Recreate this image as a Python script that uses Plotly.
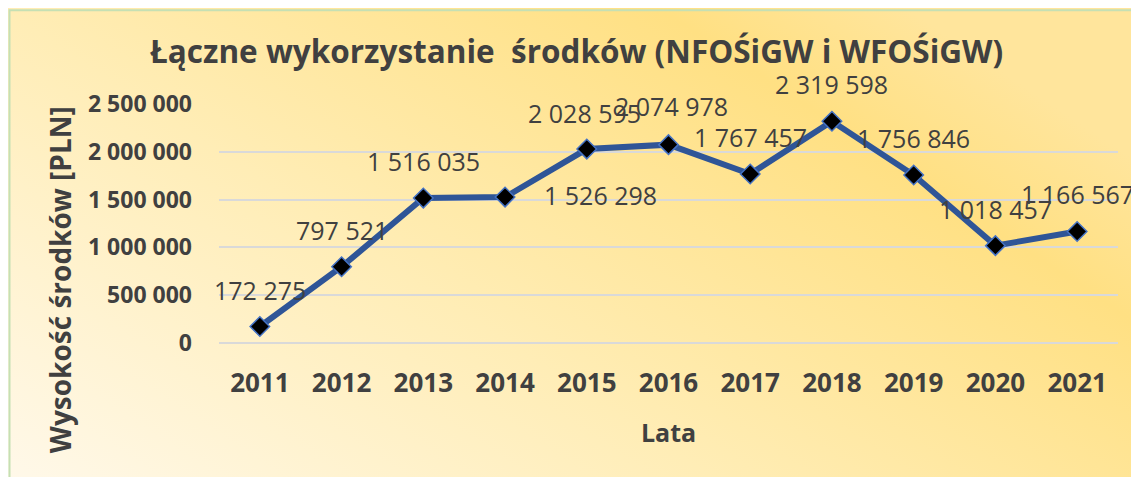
import base64
import plotly.graph_objects as go

# dane: lata i laczne wykorzystanie srodkow [PLN]
lata = [2011, 2012, 2013, 2014, 2015, 2016, 2017, 2018, 2019, 2020, 2021]
kwoty = [172275, 797521, 1516035, 1526298, 2028595, 2074978, 1767457, 2319598, 1756846, 1018457, 1166567]
y_ticks = [0, 500000, 1000000, 1500000, 2000000, 2500000]
y_tick_labels = ["0", "500 000", "1 000 000", "1 500 000", "2 000 000", "2 500 000"]

# przesuniecia etykiet danych (px) - jak w oryginale z Excela
label_shift = {2014: (95, 2), 2015: (-2, 36), 2016: (3, 39)}

W, H = 1139, 477
OFF = 8  # margines body strony
L, R, T, B = 219, 1118, 103.5, 343  # obszar wykresu w pikselach strony
TXT = "#404040"
FONT = "Open Sans"


def px_x(p):
    return (p - L) / (R - L)


def px_y(p):
    return (B - p) / (B - T)


def fmt(v):
    return f"{v:,}".replace(",", " ")


svg = """<svg xmlns='http://www.w3.org/2000/svg' width='100' height='100' preserveAspectRatio='none' viewBox='0 0 100 100'>
<defs><linearGradient id='g' x1='0' y1='1' x2='1' y2='0.35'>
<stop offset='0' stop-color='#FFF9EC'/><stop offset='0.45' stop-color='#FFEDB6'/>
<stop offset='0.85' stop-color='#FFE083'/><stop offset='1' stop-color='#FFE59C'/>
</linearGradient></defs><rect width='100' height='100' fill='url(#g)'/></svg>"""
bg_src = "data:image/svg+xml;base64," + base64.b64encode(svg.encode()).decode()

fig = go.Figure(go.Scatter(
    x=lata,
    y=kwoty,
    mode="lines+markers",
    line=dict(color="#2F5597", width=6),
    marker=dict(symbol="diamond", size=15, color="black",
                line=dict(color="#4472C4", width=1.5)),
    cliponaxis=False,
    hovertemplate="%{x}: %{y:,.0f} PLN<extra></extra>",
))

for rok, v in zip(lata, kwoty):
    dx, dy = label_shift.get(rok, (0, 37))
    fig.add_annotation(x=rok, y=v, xref="x", yref="y", text=fmt(v), showarrow=False,
                       xanchor="center", yanchor="middle", xshift=dx, yshift=dy,
                       font=dict(family=FONT, size=25, color=TXT))

fig.add_annotation(x=px_x(576), y=px_y(50), xref="paper", yref="paper", showarrow=False,
                   xanchor="center", yanchor="middle",
                   text="<b>Łączne wykorzystanie  środków (NFOŚiGW i WFOŚiGW)</b>",
                   font=dict(family=FONT, size=31.5, color=TXT))
fig.add_annotation(x=px_x(668), y=px_y(432), xref="paper", yref="paper", showarrow=False,
                   xanchor="center", yanchor="middle",
                   text="<b>Lata</b>", font=dict(family=FONT, size=25, color=TXT))
fig.add_annotation(x=px_x(60), y=px_y(280), xref="paper", yref="paper", showarrow=False,
                   xanchor="center", yanchor="middle",
                   text="<b>Wysokość środków [PLN]</b>", textangle=-90,
                   font=dict(family=FONT, size=28, color=TXT))

fig.add_layout_image(dict(source=bg_src, xref="paper", yref="paper",
                          x=px_x(7), y=px_y(5), sizex=(W + 20) / (R - L), sizey=(H + 20) / (B - T),
                          xanchor="left", yanchor="top", sizing="stretch", layer="below"))
fig.add_shape(type="rect", xref="paper", yref="paper", layer="below",
              x0=px_x(9.5), x1=px_x(W + 30), y0=px_y(H + 30), y1=px_y(9.5),
              line=dict(color="#C5E0B4", width=2), fillcolor="rgba(0,0,0,0)")

fig.update_layout(
    width=W, height=H,
    margin=dict(l=L - OFF, r=W - (R - OFF), t=T - OFF, b=H - (B - OFF)),
    paper_bgcolor="white",
    plot_bgcolor="rgba(0,0,0,0)",
    showlegend=False,
    xaxis=dict(range=[2010.5, 2021.5], tickvals=lata, ticktext=[str(r) for r in lata],
               showgrid=False, showline=False, zeroline=False, ticks="",
               ticklabelstandoff=22,
               tickfont=dict(family=FONT, size=26, color=TXT, weight="bold")),
    yaxis=dict(range=[0, 2500000], tickvals=y_ticks, ticktext=y_tick_labels,
               showgrid=True, gridcolor="#D9D9D9", gridwidth=2,
               zeroline=True, zerolinecolor="#D9D9D9", zerolinewidth=2,
               showline=False, ticks="", ticklabelstandoff=26,
               tickfont=dict(family=FONT, size=23, color=TXT, weight="bold")),
)

fig.write_html("out.html")
